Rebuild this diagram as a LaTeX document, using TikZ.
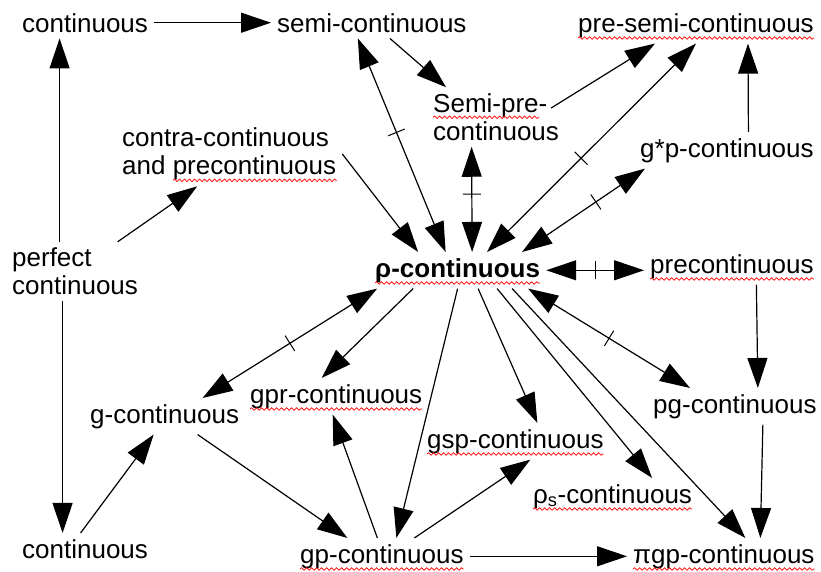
\documentclass[tikz,border=0pt]{standalone}
\usepackage{fontspec}
\setmainfont{Liberation Sans}
\usetikzlibrary{arrows.meta,decorations.markings,decorations.pathmorphing}

\begin{document}
\begin{tikzpicture}[x=1pt, y=-1pt,
    lbl/.style={
        font=\fontsize{26}{28}\selectfont,
        inner sep=6pt,
        anchor=base west,
        align=left},
    arrow/.style={
        line width=1.2pt,
        ->,
        >={Triangle[length=30pt,width=20pt]}},
    biarrow/.style={
        arrow,
        <->},
    indep/.style={
        postaction={decorate},
        decoration={markings,
            mark=at position #1 with {\draw[line width=1pt,-] (0,-9pt) -- (0,9pt);}}},
    indep/.default=0.5,
    spell/.style={
        draw=red,
        line width=0.7pt,
        decorate,
        decoration={snake, amplitude=1.3pt, segment length=5pt}}
    ]

    \useasboundingbox (0,0) rectangle (821,571);

    \node (cont1) [lbl] at (16,32) {continuous};
    \node (semi) [lbl] at (271,32) {semi-continuous};
    \node (presemi) [lbl] at (572,32) {pre-semi-continuous};
    \node (semipre) [lbl, anchor=west] at (427,117) {Semi-pre-\\continuous};
    \node (contra) [lbl, anchor=west] at (116,154) {contra-continuous\\and precontinuous};
    \node (gstarp) [lbl] at (634,157) {g*p-continuous};
    \node (perfect) [lbl, anchor=west] at (6,271.5) {perfect\\continuous};
    \node (rho) [lbl] at (369,277) {\bfseries ρ-continuous};
    \node (pre) [lbl] at (644,273) {precontinuous};
    \node (gpr) [lbl] at (244,403) {gpr-continuous};
    \node (g) [lbl] at (84,423) {g-continuous};
    \node (pg) [lbl] at (647,413) {pg-continuous};
    \node (gsp) [lbl] at (421,448) {gsp-continuous};
    \node (rhos) [lbl] at (527,503) {ρ\textsubscript{s}-continuous};
    \node (cont2) [lbl] at (16,558) {continuous};
    \node (gp) [lbl] at (294,563) {gp-continuous};
    \node (pigp) [lbl] at (627,563) {πgp-continuous};

    \foreach \n in {presemi,rho,pre,gpr,gsp,rhos,gp,pigp}
        \draw [spell] ([xshift=6pt,yshift=-6pt]\n.base west) -- ([xshift=-6pt,yshift=-6pt]\n.base east);
    \draw [spell] ([xshift=6pt,yshift=-30pt]semipre.north west) -- ([xshift=112pt,yshift=-30pt]semipre.north west);
    \draw [spell] ([xshift=57pt,yshift=6pt]contra.south west) -- ([xshift=221pt,yshift=6pt]contra.south west);

    \draw [arrow] (cont1) -- (semi);
    \draw [arrow] ([xshift=-15.5pt]perfect.north) -- ([xshift=-25.5pt]cont1.south);
    \draw [arrow] (perfect) -- ([xshift=-32pt]contra.south);
    \draw [arrow] ([xshift=-12.5pt]perfect.south) -- ([xshift=-22.5pt]cont2.north);
    \draw [arrow] (semi) -- ([xshift=-50pt]semipre.north);
    \draw [biarrow, indep=0.56] ([xshift=-12pt]rho.north) -- ([xshift=-14pt]semi.south);
    \draw [biarrow, indep=0.55] ([xshift=14.5pt]rho.north) -- ([xshift=-24.5pt]semipre.south);
    \draw [arrow] (contra.east) -- ([xshift=-39.5pt]rho.north);
    \draw [arrow] ([xshift=-14pt,yshift=9pt]semipre.east) -- ([xshift=-41pt]presemi.south);
    \draw [biarrow, indep=0.45] ([xshift=29.5pt]rho.north) -- (presemi.south);
    \draw [arrow] ([xshift=21.5pt]gstarp.north) -- ([xshift=52pt]presemi.south);
    \draw [biarrow, indep=0.6] ([xshift=64.5pt]rho.north) -- ([xshift=11pt]gstarp.south west);
    \draw [biarrow, indep] (rho.east) -- (rho.east -| pre.west);
    \draw [arrow] ([xshift=24.5pt]pre.south) -- ([xshift=23pt]pg.north);
    \draw [biarrow, indep] ([xshift=70.5pt]rho.south) -- ([xshift=43pt]pg.north west);
    \draw [arrow] ([xshift=28pt]pg.south) -- ([xshift=36.5pt]pigp.north);
    \draw [biarrow, indep] ([xshift=-80.5pt]rho.south) -- ([xshift=38pt]g.north);
    \draw [arrow] ([xshift=-44.5pt]rho.south) -- ([xshift=-14.5pt]gpr.north);
    \draw [arrow] (rho.south) -- ([xshift=14.5pt]gp.north);
    \draw [arrow] ([xshift=20.5pt]rho.south) -- ([xshift=22pt]gsp.north);
    \draw [arrow] ([xshift=39.5pt]rho.south) -- ([xshift=39.5pt]rhos.north);
    \draw [arrow] ([xshift=54.5pt]rho.south) -- ([xshift=21.5pt]pigp.north);
    \draw [arrow] ([xshift=-4.5pt]cont2.north) -- ([xshift=-11pt]g.south);
    \draw [arrow] ([xshift=33pt]g.south) -- ([xshift=-34.5pt]gp.north);
    \draw [arrow] ([xshift=-4.5pt]gp.north) -- ([xshift=-3.5pt]gpr.south);
    \draw [arrow] ([xshift=32.5pt]gp.north) -- ([xshift=15pt]gsp.south);
    \draw [arrow] (gp) -- (pigp);

\end{tikzpicture}
\end{document}
